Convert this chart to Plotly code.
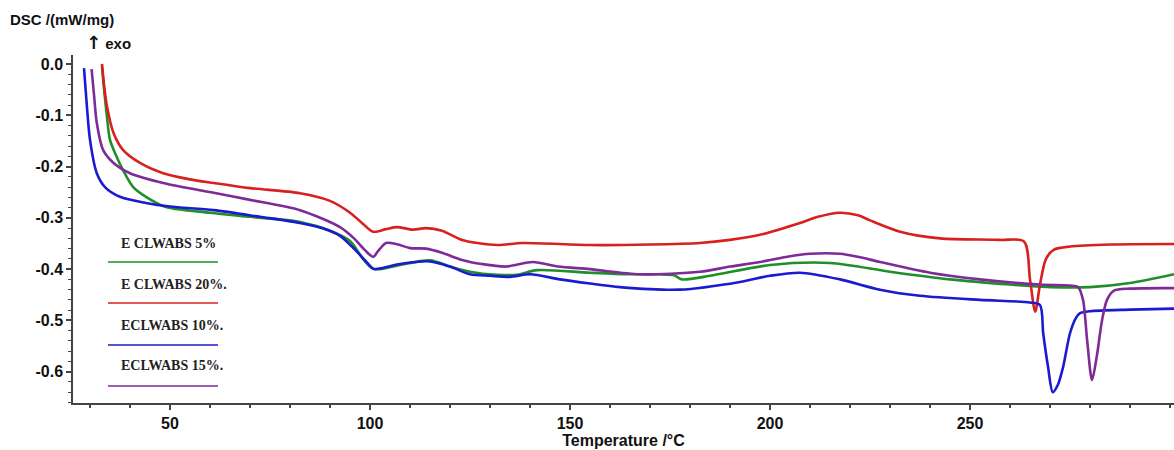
import plotly.graph_objects as go

# ---------------- data ----------------
temp_5 = [33, 33.4, 34.2, 35, 36.6, 38.25, 40.8, 44, 49, 60, 70, 82.5, 90, 95, 98.25, 100.5, 102.5, 107.5, 115,
          120, 125, 131.75, 136.75, 141.75, 155, 165, 172.5, 176, 178, 185, 200, 215, 230, 245, 260, 270, 280,
          290, 301]
dsc_5 = [-0.005, -0.04, -0.1, -0.148, -0.18, -0.207, -0.24, -0.259, -0.279, -0.29, -0.298, -0.308, -0.325,
         -0.345, -0.38, -0.398, -0.40, -0.392, -0.383, -0.395, -0.405, -0.411, -0.411, -0.402, -0.407, -0.41,
         -0.41, -0.412, -0.42, -0.413, -0.392, -0.388, -0.405, -0.42, -0.43, -0.435, -0.435, -0.427, -0.41]

temp_20 = [33, 33.5, 34.25, 35.9, 38.3, 42.5, 48.3, 55, 60.9, 70, 82.5, 90, 95, 98, 100.75, 104, 106.75, 110.75,
           114, 118, 123, 131.75, 138, 155, 170, 182.5, 190, 197.5, 207.5, 212, 217.5, 222, 225, 232.5, 242.5,
           257.5, 263.5, 265, 266.3, 267.5, 269, 271, 275, 285, 301]
dsc_20 = [0.0, -0.04, -0.083, -0.135, -0.168, -0.193, -0.213, -0.225, -0.232, -0.242, -0.252, -0.267, -0.29,
          -0.31, -0.327, -0.322, -0.318, -0.323, -0.32, -0.325, -0.343, -0.353, -0.349, -0.353, -0.352, -0.349,
          -0.343, -0.333, -0.31, -0.298, -0.29, -0.295, -0.305, -0.327, -0.34, -0.343, -0.346, -0.42, -0.483,
          -0.43, -0.38, -0.362, -0.356, -0.352, -0.351]

temp_10 = [28.5, 29.2, 30, 31.7, 33.75, 37.5, 44, 50, 60.9, 72.5, 82.5, 88, 92.5, 96, 99, 101, 103, 107.5, 115,
           120, 125, 130, 135, 140, 147.5, 155, 162.5, 177.5, 192.5, 200, 207.5, 217.5, 227.5, 237.5, 252.5,
           265, 267.5, 268.3, 269.5, 270.7, 272, 273.3, 275, 276.5, 277.5, 280, 290, 301]
dsc_10 = [-0.008, -0.08, -0.148, -0.213, -0.24, -0.259, -0.271, -0.278, -0.285, -0.298, -0.31, -0.32, -0.335,
          -0.36, -0.385, -0.40, -0.398, -0.39, -0.385, -0.395, -0.41, -0.413, -0.415, -0.41, -0.42, -0.428,
          -0.435, -0.44, -0.425, -0.413, -0.407, -0.42, -0.44, -0.452, -0.46, -0.465, -0.47, -0.525, -0.59,
          -0.64, -0.625, -0.59, -0.525, -0.495, -0.486, -0.482, -0.479, -0.477]

temp_15 = [30.4, 31, 31.7, 33.3, 35.9, 40, 48.3, 60.9, 70, 82.5, 92.5, 96, 98.75, 100.75, 102, 104, 107, 110,
           114, 118, 123, 128, 134, 140.75, 147, 155, 167.5, 182.5, 190, 197.5, 205, 210, 217.5, 222, 227.5,
           240, 252.5, 267.5, 275, 277, 278.25, 279.3, 280.5, 281.7, 283, 284.25, 286, 290, 301]
dsc_15 = [-0.01, -0.06, -0.115, -0.168, -0.193, -0.213, -0.232, -0.251, -0.265, -0.285, -0.318, -0.34, -0.363,
          -0.376, -0.365, -0.349, -0.352, -0.359, -0.36, -0.368, -0.382, -0.39, -0.395, -0.386, -0.395, -0.40,
          -0.41, -0.405, -0.395, -0.386, -0.375, -0.37, -0.37, -0.376, -0.386, -0.407, -0.42, -0.43, -0.432,
          -0.435, -0.46, -0.54, -0.616, -0.57, -0.5, -0.46, -0.442, -0.438, -0.437]

series_names = ["E CLWABS 5%", "E CLWABS 20%.", "ECLWABS 10%.", "ECLWABS 15%."]
series_x = [temp_5, temp_20, temp_10, temp_15]
series_y = [dsc_5, dsc_20, dsc_10, dsc_15]
series_colors = ["#1f8f2a", "#d8201e", "#1a1ad0", "#7e2a98"]

x_tick_vals = [50, 100, 150, 200, 250]
x_tick_text = ["50", "100", "150", "200", "250"]
y_tick_vals = [0.0, -0.1, -0.2, -0.3, -0.4, -0.5, -0.6]
y_tick_text = ["0.0", "-0.1", "-0.2", "-0.3", "-0.4", "-0.5", "-0.6"]

# ---------------- layout geometry ----------------
W, H = 1174, 450
L, R, T, B = 73, 0, 55, 47
PW, PH = W - L - R, H - T - B


def px(x):
    return (x - L) / PW


def py(y):
    return (H - B - y) / PH


fig = go.Figure()
for name, xs, ys, col in zip(series_names, series_x, series_y, series_colors):
    fig.add_trace(go.Scatter(x=xs, y=ys, mode="lines", name=name,
                             line=dict(color=col, width=2.6, shape="spline", smoothing=0.8)))

# in-plot legend (text above a coloured line)
leg_text_y = [243, 284, 325, 365]
leg_line_y = [262, 303, 345, 386]
annotations = []
shapes = []
for name, col, ty, ly in zip(series_names, series_colors, leg_text_y, leg_line_y):
    annotations.append(dict(text=name, x=px(119), y=py(ty), xref="paper", yref="paper",
                            xanchor="left", yanchor="middle", showarrow=False,
                            font=dict(family="Liberation Serif, Times New Roman, serif", size=14,
                                      color="#222", weight="bold")))
    shapes.append(dict(type="line", xref="paper", yref="paper", x0=px(108), x1=px(218),
                       y0=py(ly), y1=py(ly), line=dict(color=col, width=1.3)))

annotations.append(dict(text="DSC /(mW/mg)", x=px(8), y=py(19), xref="paper", yref="paper",
                        xanchor="left", yanchor="middle", showarrow=False,
                        font=dict(family="Liberation Sans, Arial", size=15, color="#111", weight="bold")))
annotations.append(dict(text="<span style='font-family:DejaVu Sans;font-size:18px;color:#111'>↑</span> exo",
                        x=px(84), y=py(42), xref="paper", yref="paper",
                        xanchor="left", yanchor="middle", showarrow=False,
                        font=dict(family="Liberation Sans, Arial", size=15, color="#111", weight="bold")))

fig.update_layout(
    width=W, height=H,
    margin=dict(l=L, r=R, t=T, b=B),
    paper_bgcolor="white", plot_bgcolor="white",
    showlegend=False,
    annotations=annotations,
    shapes=shapes,
    font=dict(family="Liberation Sans, Arial", color="#111"),
)

fig.update_xaxes(
    range=[25.75, 301], showgrid=False, zeroline=False,
    showline=True, linecolor="#444", linewidth=1.5,
    ticks="outside", ticklen=5, tickcolor="#444", tickwidth=1.5,
    tickvals=x_tick_vals, ticktext=x_tick_text,
    tickfont=dict(size=16, weight="bold", color="#111"),
    minor=dict(dtick=10, tick0=0, ticks="outside", ticklen=3, tickcolor="#444", tickwidth=1.5),
    title=dict(text="Temperature /°C", standoff=0,
               font=dict(size=16, weight="bold", color="#111")),
)
fig.update_yaxes(
    range=[-0.661, 0.0175], showgrid=False, zeroline=False,
    showline=True, linecolor="#444", linewidth=1.5,
    ticks="outside", ticklen=5, tickcolor="#444", tickwidth=1.5,
    tickvals=y_tick_vals, ticktext=y_tick_text,
    tickfont=dict(size=16, weight="bold", color="#111"),
    minor=dict(dtick=0.02, tick0=0, ticks="outside", ticklen=3, tickcolor="#444", tickwidth=1),
)

fig.write_html("out.html")
